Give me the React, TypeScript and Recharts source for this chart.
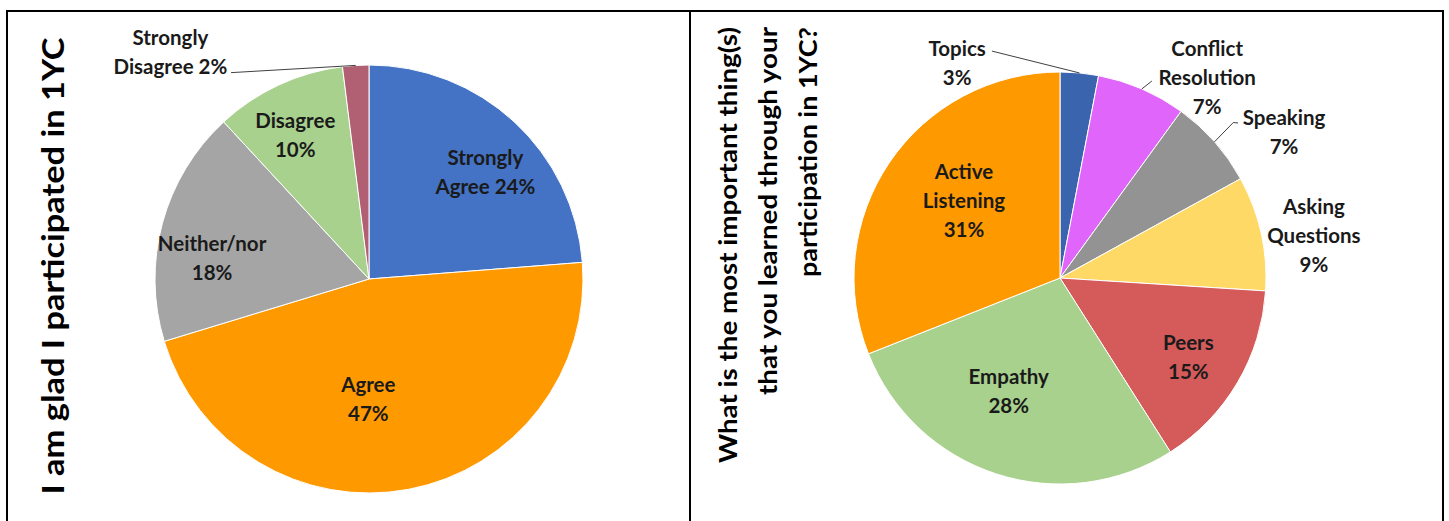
import { Pie, PieChart, Cell } from 'recharts';

// 왼쪽 파이: 참여 만족도
const leftNames = ['Strongly Agree', 'Agree', 'Neither/nor', 'Disagree', 'Strongly Disagree'];
const leftValues = [24, 47, 18, 10, 2];
const leftLabels = [
  ['Strongly', 'Agree 24%'],
  ['Agree', '47%'],
  ['Neither/nor', '18%'],
  ['Disagree', '10%'],
  ['Strongly', 'Disagree 2%'],
];
const leftColors = ['#4472C4', '#FF9900', '#A5A5A5', '#A9D18E', '#B06072'];

// 오른쪽 파이: 가장 중요하게 배운 것
const rightNames = ['Topics', 'Conflict Resolution', 'Speaking', 'Asking Questions', 'Peers', 'Empathy', 'Active Listening'];
const rightValues = [3, 7, 7, 9, 15, 28, 31];
const rightLabels = [
  ['Topics', '3%'],
  ['Conflict', 'Resolution', '7%'],
  ['Speaking', '7%'],
  ['Asking', 'Questions', '9%'],
  ['Peers', '15%'],
  ['Empathy', '28%'],
  ['Active', 'Listening', '31%'],
];
const rightColors = ['#3A64AD', '#DF65FB', '#939393', '#FFD966', '#D55A5A', '#A9D18E', '#FF9900'];

const leftTitle = 'I am glad I participated in 1YC';
const rightTitle = ['What is the most important thing(s)', 'that you learned through your', 'participation in 1YC?'];

// 라벨 배치 (반지름 비율 d, 시계방향 각도 보정 dt)
type Placement = { d: number; dt: number; leader?: { d: number; dt: number }[] };
const leftPlacement: Placement[] = [
  { d: 0.74, dt: 4.5 },
  { d: 0.56, dt: 11 },
  { d: 0.74, dt: -7.5 },
  { d: 0.76, dt: -2 },
  { d: 1.41, dt: -37.6, leader: [{ d: 1, dt: 0 }, { d: 1.16, dt: -30.2 }] },
];
const rightPlacement: Placement[] = [
  { d: 1.16, dt: -30.9, leader: [{ d: 1, dt: 0 }, { d: 1.15, dt: -22.1 }] },
  { d: 1.21, dt: 12.8, leader: [{ d: 1, dt: 0 }, { d: 1.055, dt: 1.6 }] },
  { d: 1.3, dt: 8.2, leader: [{ d: 1, dt: 0 }, { d: 1.13, dt: -0.5 }, { d: 1.146, dt: 0.35 }] },
  { d: 1.25, dt: 3 },
  { d: 0.73, dt: 0.8 },
  { d: 0.6, dt: 6.5 },
  { d: 0.6, dt: 4.8 },
];

const RAD = Math.PI / 180;
const FONT = 'Lato, "Open Sans", sans-serif';
const LINE_H = 29;

function polar(cx: number, cy: number, r: number, angle: number) {
  return { x: cx + r * Math.cos(-angle * RAD), y: cy + r * Math.sin(-angle * RAD) };
}

function makeLabel(lines: string[][], placement: Placement[]) {
  return (props: any) => {
    const { cx, cy, midAngle, outerRadius, index } = props;
    const p = placement[index];
    const c = polar(cx, cy, outerRadius * p.d, midAngle - p.dt);
    const txt = lines[index];
    const y0 = c.y - ((txt.length - 1) * LINE_H) / 2;
    const pts = p.leader
      ? p.leader.map(l => polar(cx, cy, outerRadius * l.d, midAngle - l.dt))
      : null;
    return (
      <g key={`lbl-${index}`}>
        {pts && (
          <polyline
            points={pts.map(q => `${q.x},${q.y}`).join(' ')}
            fill="none"
            stroke="#404040"
            strokeWidth={1}
          />
        )}
        <text
          x={c.x}
          y={y0}
          textAnchor="middle"
          dominantBaseline="central"
          fontFamily={FONT}
          fontWeight={700}
          fontSize={20.5}
          fill="#1a1a1a"
        >
          {txt.map((t, i) => (
            <tspan key={i} x={c.x} y={y0 + i * LINE_H}>
              {t}
            </tspan>
          ))}
        </text>
      </g>
    );
  };
}

export default function App() {
  const leftData = leftNames.map((name, i) => ({ name, value: leftValues[i] }));
  const rightData = rightNames.map((name, i) => ({ name, value: rightValues[i] }));

  return (
    <div style={{ position: 'absolute', left: 0, top: 0, width: 1449, height: 521, background: '#fff', overflow: 'hidden' }}>
      <div style={{ position: 'absolute', left: 0, top: 0 }}>
        <PieChart width={690} height={521} margin={{ top: 0, right: 0, bottom: 0, left: 0 }}>
          <Pie
            data={leftData}
            dataKey="value"
            cx={369}
            cy={279}
            outerRadius={214}
            startAngle={90}
            endAngle={-270}
            stroke="#fff"
            strokeWidth={1}
            labelLine={false}
            label={makeLabel(leftLabels, leftPlacement)}
            isAnimationActive={false}
          >
            {leftData.map((_, i) => (
              <Cell key={i} fill={leftColors[i]} />
            ))}
          </Pie>
        </PieChart>
      </div>
      <div style={{ position: 'absolute', left: 690, top: 0 }}>
        <PieChart width={759} height={521} margin={{ top: 0, right: 0, bottom: 0, left: 0 }}>
          <Pie
            data={rightData}
            dataKey="value"
            cx={370}
            cy={278}
            outerRadius={206}
            startAngle={90}
            endAngle={-270}
            stroke="#fff"
            strokeWidth={1}
            labelLine={false}
            label={makeLabel(rightLabels, rightPlacement)}
            isAnimationActive={false}
          >
            {rightData.map((_, i) => (
              <Cell key={i} fill={rightColors[i]} />
            ))}
          </Pie>
        </PieChart>
      </div>
      {/* 테두리와 세로 제목 */}
      <svg width={1449} height={521} style={{ position: 'absolute', left: 0, top: 0, pointerEvents: 'none' }}>
        <polyline points="7,521 7,11 1443,11 1443,521" fill="none" stroke="#000" strokeWidth={2} />
        <line x1={690} y1={11} x2={690} y2={521} stroke="#000" strokeWidth={2} />
        <text
          transform="translate(52,266) rotate(-90)"
          textAnchor="middle"
          dominantBaseline="central"
          fontFamily={FONT}
          fontWeight={700}
          fontSize={30}
          textLength={457}
          lengthAdjust="spacingAndGlyphs"
          fill="#000"
        >
          {leftTitle}
        </text>
        {rightTitle.map((t, i) => (
          <text
            key={i}
            transform={`translate(${727 + i * 40},27) rotate(-90)`}
            textAnchor="end"
            dominantBaseline="central"
            fontFamily={FONT}
            fontWeight={700}
            fontSize={24}
            textLength={[436, 368, 250][i]}
            lengthAdjust="spacingAndGlyphs"
            fill="#000"
          >
            {t}
          </text>
        ))}
      </svg>
    </div>
  );
}
